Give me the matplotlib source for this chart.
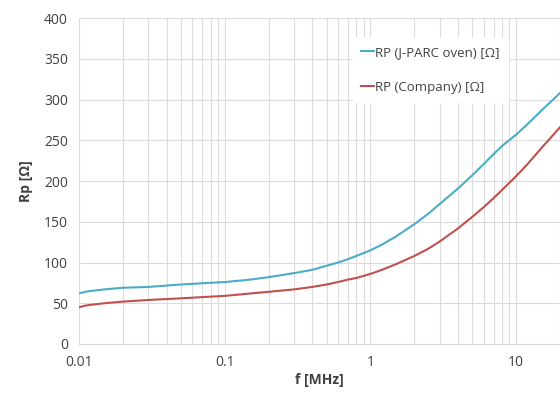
import numpy as np
import matplotlib.pyplot as plt
from matplotlib.ticker import FixedLocator, LogLocator, NullFormatter

freq = [0.01, 0.011, 0.012, 0.015, 0.02, 0.03, 0.05, 0.07, 0.1, 0.15, 0.2, 0.3, 0.4, 0.5,
        0.6, 0.7, 0.8, 1, 1.2, 1.5, 2, 2.5, 3, 4, 5, 6, 7, 8, 10, 12, 15, 20]
rp_jparc = [62, 64, 65, 67, 69, 70, 73, 74.5, 76, 79, 82, 87, 91, 96,
            100, 104, 108, 115, 122, 132, 147, 160, 172, 191, 207, 221, 233, 243, 257, 270, 287, 308]
rp_company = [45, 47, 48, 50, 52, 54, 56, 57.5, 59, 62, 64, 67, 70, 73,
              76, 79, 81, 86, 91, 98, 108, 117, 126, 142, 156, 168, 179, 189, 206, 221, 241, 266]
xticks = [0.01, 0.1, 1, 10]
xtick_labels = ['0.01', '0.1', '1', '10']

plt.rcParams['font.family'] = ['Open Sans', 'DejaVu Sans']

fig = plt.figure(figsize=(5.6, 3.94), dpi=100)
ax = fig.add_axes([0.141, 0.127, 0.859, 0.827])

ax.plot(freq, rp_jparc, color='#4bacc6', lw=1.5, label='RP (J-PARC oven) [Ω]')
ax.plot(freq, rp_company, color='#c0504d', lw=1.5, label='RP (Company) [Ω]')

ax.set_xscale('log')
ax.set_xlim(0.01, 20)
ax.set_ylim(0, 400)
ax.set_yticks(range(0, 401, 50))
ax.xaxis.set_major_locator(FixedLocator(xticks))
ax.set_xticklabels(xtick_labels)
ax.xaxis.set_minor_locator(LogLocator(base=10, subs=np.arange(2, 10)))
ax.xaxis.set_minor_formatter(NullFormatter())

ax.grid(True, which='both', axis='x', color='#dcdcdc', lw=0.8)
ax.grid(True, which='major', axis='y', color='#dcdcdc', lw=0.8)
ax.set_axisbelow(True)
for s in ['top', 'right', 'left']:
    ax.spines[s].set_visible(False)
ax.spines['bottom'].set_color('#d9d9d9')
ax.tick_params(which='both', length=0, labelsize=10, colors='#404040', pad=8)

ax.set_xlabel('f [MHz]', fontsize=10, fontweight='bold', color='#404040', labelpad=2)
ax.set_ylabel('Rp [Ω]', fontsize=10, fontweight='bold', color='#404040', labelpad=8)

leg = ax.legend(loc='upper right', bbox_to_anchor=(0.905, 0.96), frameon=True, fontsize=9.5,
                handlelength=1.0, handletextpad=0.1, labelspacing=1.7, borderpad=0.6)
leg.get_frame().set_edgecolor('white')
leg.get_frame().set_facecolor('white')
leg.get_frame().set_alpha(1)
for t in leg.get_texts():
    t.set_color('#404040')

fig.savefig('out.png', dpi=100)
